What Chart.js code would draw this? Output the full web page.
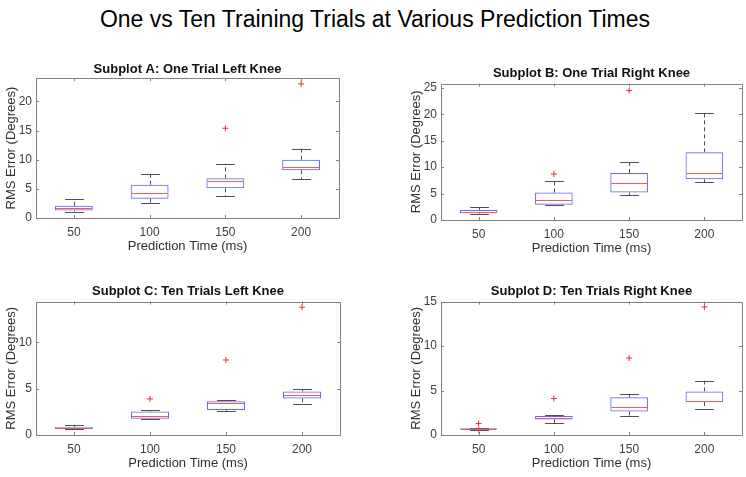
<!DOCTYPE html>
<html>
<head>
<meta charset="utf-8">
<script src="https://cdn.jsdelivr.net/npm/chart.js@4.4.0/dist/chart.umd.min.js"></script>
<style>
    body { margin: 0; width: 746px; height: 477px; background: #fff; position: relative; overflow: hidden; font-family: 'Liberation Sans', Arial, sans-serif; }
    #suptitle { position: absolute; left: 2px; top: 5px; width: 746px; text-align: center; font-size: 23px; line-height: 28px; color: #000; }
    canvas { position: absolute; }
</style>
</head>
<body>
<div id="suptitle">One vs Ten Training Trials at Various Prediction Times</div>
<canvas id="plotA"></canvas>
<canvas id="plotB"></canvas>
<canvas id="plotC"></canvas>
<canvas id="plotD"></canvas>
<script>
const categories = ['50', '100', '150', '200'];

// Subplot A: one trial, left knee
const aLow = [1.1, 2.5, 3.7, 6.7];
const aQ1 = [1.3, 3.3, 5.1, 8.2];
const aMedian = [1.8, 4.3, 6.4, 8.7];
const aQ3 = [2.1, 5.7, 6.8, 10.0];
const aHigh = [3.2, 7.5, 9.3, 11.9];
const aOutliers = [[2, 15.4], [3, 23.0]];

// Subplot B: one trial, right knee
const bLow = [1.2, 2.9, 4.7, 7.1];
const bQ1 = [1.3, 2.9, 5.2, 7.7];
const bMedian = [1.45, 3.8, 7.0, 8.8];
const bQ3 = [1.9, 5.2, 8.9, 12.8];
const bHigh = [2.4, 7.3, 10.9, 20.3];
const bOutliers = [[1, 8.7], [2, 24.5]];

// Subplot C: ten trials, left knee
const cLow = [0.6, 1.7, 2.6, 3.4];
const cQ1 = [0.65, 1.75, 2.7, 3.95];
const cMedian = [0.75, 2.1, 3.5, 4.35];
const cQ3 = [0.85, 2.55, 3.65, 4.7];
const cHigh = [1.1, 2.65, 3.8, 4.95];
const cOutliers = [[1, 3.9], [2, 8.1], [3, 13.8]];

// Subplot D: ten trials, right knee
const dLow = [0.6, 1.35, 2.1, 2.95];
const dQ1 = [0.65, 1.75, 2.65, 3.7];
const dMedian = [0.7, 1.95, 3.1, 3.85];
const dQ3 = [0.75, 2.15, 4.25, 4.9];
const dHigh = [0.8, 2.2, 4.65, 6.1];
const dOutliers = [[0, 1.3], [0, 0.55], [1, 4.1], [2, 8.65], [3, 14.4]];

const yMaxA = 24, yMaxB = 25.8, yMaxC = 14.4, yMaxD = 15;

Chart.defaults.font.family = "'Liberation Sans', Arial, sans-serif";
Chart.defaults.color = '#404040';

const px = v => Math.round(v) + 0.5;

// whiskers, caps, medians, axes box with inward ticks
const boxExtras = {
    id: 'boxExtras',
    beforeDatasetsDraw(chart, args, opts) {
        const { ctx, scales: { x, y } } = chart;
        const boxW = (x.getPixelForValue(1) - x.getPixelForValue(0)) * 0.5;
        const capW = boxW * 0.5;
        ctx.save();
        ctx.strokeStyle = '#505050';
        ctx.lineWidth = 1;
        opts.median.forEach((m, i) => {
            const cx = px(x.getPixelForValue(i));
            ctx.setLineDash([4, 3]);
            ctx.beginPath();
            ctx.moveTo(cx, y.getPixelForValue(opts.q3[i]));
            ctx.lineTo(cx, y.getPixelForValue(opts.high[i]));
            ctx.moveTo(cx, y.getPixelForValue(opts.q1[i]));
            ctx.lineTo(cx, y.getPixelForValue(opts.low[i]));
            ctx.stroke();
            ctx.setLineDash([]);
            ctx.beginPath();
            const yh = px(y.getPixelForValue(opts.high[i]));
            const yl = px(y.getPixelForValue(opts.low[i]));
            ctx.moveTo(cx - capW / 2, yh);
            ctx.lineTo(cx + capW / 2, yh);
            ctx.moveTo(cx - capW / 2, yl);
            ctx.lineTo(cx + capW / 2, yl);
            ctx.stroke();
        });
        ctx.restore();
    },
    afterDatasetsDraw(chart, args, opts) {
        const { ctx, chartArea: a, scales: { x, y } } = chart;
        const boxW = (x.getPixelForValue(1) - x.getPixelForValue(0)) * 0.5;
        ctx.save();
        ctx.lineWidth = 1;
        ctx.strokeStyle = '#f05a5a';
        ctx.beginPath();
        opts.median.forEach((m, i) => {
            const cx = x.getPixelForValue(i);
            const ym = px(y.getPixelForValue(m));
            ctx.moveTo(cx - boxW / 2 + 1, ym);
            ctx.lineTo(cx + boxW / 2 - 1, ym);
        });
        ctx.stroke();

        ctx.strokeStyle = '#808080';
        ctx.beginPath();
        ctx.rect(px(a.left), px(a.top), Math.round(a.right - a.left), Math.round(a.bottom - a.top));
        categories.forEach((c, i) => {
            const tx = px(x.getPixelForValue(i));
            ctx.moveTo(tx, a.bottom);
            ctx.lineTo(tx, a.bottom - 3);
            ctx.moveTo(tx, a.top);
            ctx.lineTo(tx, a.top + 3);
        });
        y.ticks.forEach(t => {
            const ty = px(y.getPixelForValue(t.value));
            ctx.moveTo(a.left, ty);
            ctx.lineTo(a.left + 3, ty);
            ctx.moveTo(a.right, ty);
            ctx.lineTo(a.right - 3, ty);
        });
        ctx.stroke();
        ctx.restore();
    }
};

function drawBoxplot(id, title, stats, outliers, yMax, frame, titleGap) {
    const yAxisW = 36, xAxisH = 38, padRight = 3;
    const titleH = 13 * 1.2 + titleGap;
    const canvas = document.getElementById(id);
    canvas.width = frame.right - frame.left + yAxisW + padRight;
    canvas.height = frame.bottom - frame.top + titleH + xAxisH;
    canvas.style.left = (frame.left - yAxisW) + 'px';
    canvas.style.top = (frame.top - titleH) + 'px';

    new Chart(canvas, {
        type: 'bar',
        data: {
            labels: categories,
            datasets: [{
                type: 'bar',
                data: stats.q1.map((v, i) => [v, stats.q3[i]]),
                backgroundColor: 'rgba(255,255,255,0)',
                borderColor: '#6464f5',
                borderWidth: 1,
                borderSkipped: false,
                barPercentage: 0.5,
                categoryPercentage: 1.0,
            }, {
                type: 'scatter',
                data: outliers.map(o => ({ x: categories[o[0]], y: o[1] })),
                pointStyle: 'cross',
                radius: 3,
                borderColor: '#e53030',
                borderWidth: 1,
            }],
        },
        options: {
            responsive: false,
            animation: false,
            devicePixelRatio: 1,
            layout: { padding: { left: 0, right: padRight, top: 0, bottom: 0 } },
            plugins: {
                legend: { display: false },
                tooltip: { enabled: false },
                title: {
                    display: true,
                    text: title,
                    fullSize: false,
                    color: '#111',
                    font: { size: 13, weight: 'bold' },
                    padding: { top: 0, bottom: titleGap },
                },
                boxExtras: stats,
            },
            scales: {
                x: {
                    type: 'category',
                    offset: true,
                    grid: { display: false, drawTicks: false },
                    border: { display: false },
                    ticks: { font: { size: 12 }, padding: 7, maxRotation: 0 },
                    title: { display: true, text: 'Prediction Time (ms)', color: '#303030', font: { size: 13 }, padding: { top: 0, bottom: 2 } },
                    afterFit: s => { s.height = xAxisH; },
                },
                y: {
                    min: 0,
                    max: yMax,
                    grid: { display: false, drawTicks: false },
                    border: { display: false },
                    ticks: { stepSize: 5, includeBounds: false, font: { size: 12 }, padding: 4 },
                    title: { display: true, text: 'RMS Error (Degrees)', color: '#303030', font: { size: 13 }, padding: { top: 4, bottom: 0 } },
                    afterFit: s => { s.width = yAxisW; },
                },
            },
        },
        plugins: [boxExtras],
    });
}

drawBoxplot('plotA', 'Subplot A: One Trial Left Knee',
    { low: aLow, q1: aQ1, median: aMedian, q3: aQ3, high: aHigh }, aOutliers, yMaxA,
    { left: 36, top: 78, right: 341, bottom: 218 }, 0.5);
drawBoxplot('plotB', 'Subplot B: One Trial Right Knee',
    { low: bLow, q1: bQ1, median: bMedian, q3: bQ3, high: bHigh }, bOutliers, yMaxB,
    { left: 441, top: 84, right: 744, bottom: 221 }, 2);
drawBoxplot('plotC', 'Subplot C: Ten Trials Left Knee',
    { low: cLow, q1: cQ1, median: cMedian, q3: cQ3, high: cHigh }, cOutliers, yMaxC,
    { left: 36, top: 302, right: 342, bottom: 436 }, 2);
drawBoxplot('plotD', 'Subplot D: Ten Trials Right Knee',
    { low: dLow, q1: dQ1, median: dMedian, q3: dQ3, high: dHigh }, dOutliers, yMaxD,
    { left: 441, top: 302, right: 744, bottom: 436 }, 2);
</script>
</body>
</html>
